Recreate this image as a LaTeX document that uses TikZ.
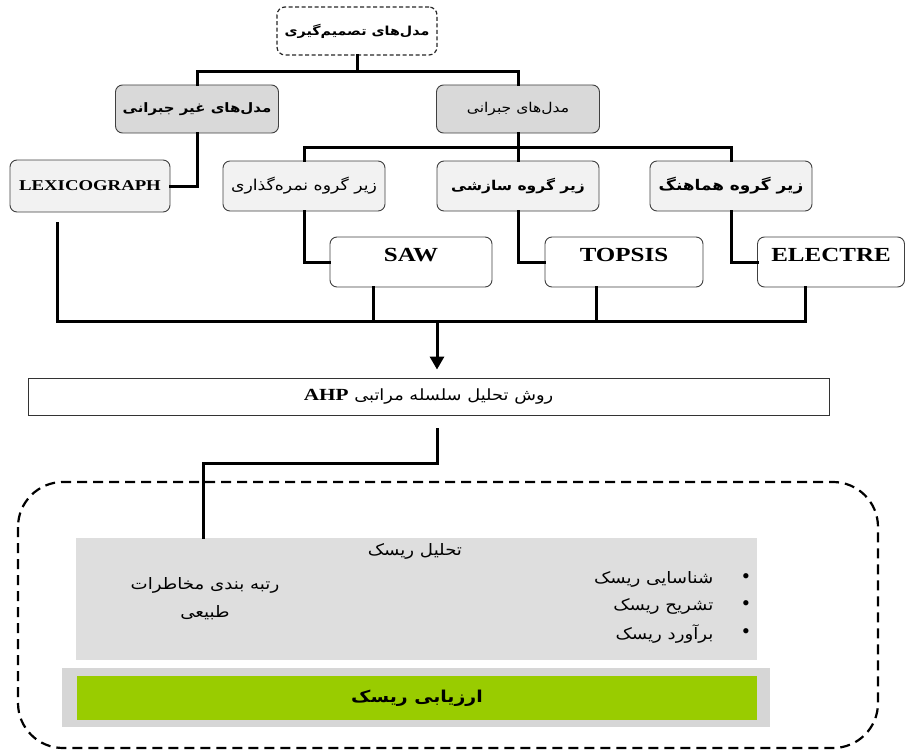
\documentclass[tikz,border=0pt]{standalone}
\usepackage{fontspec}
\setmainfont{Liberation Serif}
\newfontfamily\fafont[Script=Arabic,FakeStretch=1.15]{DejaVu Sans}
\newfontfamily\latinfnt[FakeStretch=1.25]{Liberation Serif}
\TeXXeTstate=1
\usetikzlibrary{arrows.meta,positioning,calc}
\definecolor{lvltwo}{HTML}{D9D9D9}
\definecolor{lvlthree}{HTML}{F2F2F2}
\definecolor{riskgray}{HTML}{DEDEDE}
\definecolor{bargray}{HTML}{D6D6D6}
\definecolor{riskgreen}{HTML}{99CC00}
\tikzset{
	topbox/.style={draw=black!85,dashed,dash pattern=on 4pt off 2.5pt,line width=1.2pt,rounded corners=8pt,minimum width=160pt,minimum height=48pt,font=\fafont\bfseries\fontsize{12.4}{14}\selectfont},
	grpbox/.style={draw=black!75,line width=0.9pt,rounded corners=7pt,fill=lvltwo,minimum width=163pt,minimum height=48pt,font=\fafont\fontsize{13.5}{15}\selectfont},
	subbox/.style={draw=black!75,line width=0.9pt,rounded corners=7pt,fill=lvlthree,minimum width=162pt,minimum height=50pt,font=\fafont\fontsize{15}{17}\selectfont},
	mbox/.style={draw=black!75,line width=0.9pt,rounded corners=7pt,fill=white,minimum width=162pt,inner sep=4pt,text height=20pt,text depth=22pt,font=\latinfnt\bfseries\fontsize{20}{22}\selectfont},
	conn/.style={line width=3pt,line cap=rect},
	riskfont/.style={font=\fafont\fontsize{15.8}{18}\selectfont},
	dot/.style={font=\fontsize{22}{22}\selectfont,inner sep=0pt}
}

\begin{document}
\begin{tikzpicture}[x=1pt,y=-1pt]
	\useasboundingbox (0,0) rectangle (908,752);
	
	%%decision models
	\node[topbox] (dm) at (357,31) {\beginR مدل‌های تصمیم‌گیری\endR};
	
	%%non compensatory / compensatory
	\node[grpbox,font=\fafont\bfseries\fontsize{13}{15}\selectfont] (nc) at (197,109) {\beginR مدل‌های غیر جبرانی\endR};
	\node[grpbox] (cp) at (518,109) {\beginR مدل‌های جبرانی\endR};
	
	%%sub groups
	\node[subbox,minimum width=160pt,minimum height=52pt,font=\latinfnt\bfseries\fontsize{15}{17}\selectfont] (lex) at (90,186) {LEXICOGRAPH};
	\node[subbox] (sc) at (304,186) {\beginR زیر گروه نمره‌گذاری\endR};
	\node[subbox,font=\fafont\bfseries\fontsize{13.5}{15}\selectfont] (sz) at (518,186) {\beginR زیر گروه سازشی\endR};
	\node[subbox,font=\fafont\bfseries\fontsize{14.7}{16}\selectfont] (hm) at (731,186) {\beginR زیر گروه هماهنگ\endR};
	
	%%methods
	\node[mbox] (saw) at (411,262) {SAW};
	\node[mbox,minimum width=158pt] (topsis) at (624,262) {TOPSIS};
	\node[mbox,minimum width=147pt] (electre) at (831,262) {ELECTRE};
	
	%%AHP
	\node[draw=black!80,line width=0.9pt,minimum width=801pt,minimum height=37pt,font=\fafont\fontsize{15.5}{17}\selectfont] (ahp) at (428.5,396.5) {\beginR روش تحلیل سلسله مراتبی \beginL{\latinfnt\bfseries\fontsize{17}{19}\selectfont AHP}\endL\endR};
	
	%% tree edges
	\coordinate (j1) at (357,72);
	\draw[conn] (dm.south) -- (j1);
	\draw[conn] (nc.north) |- (j1) -| (cp.north);
	\draw[conn] (nc.south) |- (lex.east);
	\coordinate (j2) at (518,147);
	\draw[conn] (cp.south) -- (sz.north);
	\draw[conn] (sc.north) |- (j2) -| (hm.north);
	\draw[conn] (sc.south) |- (saw.west);
	\draw[conn] (sz.south) |- (topsis.west);
	\draw[conn] (hm.south) |- (electre.west);
	
	%% bus to AHP
	\coordinate (lx) at (57,223);
	\coordinate (b1) at (373,321);
	\coordinate (b2) at (596,321);
	\coordinate (b3) at (805,321);
	\coordinate (b0) at (437,321);
	\draw[conn] (lx) |- (b3) -- (b3 |- electre.south);
	\draw[conn] (b1) -- (b1 |- saw.south);
	\draw[conn] (b2) -- (b2 |- topsis.south);
	\draw[line width=3pt,-{Triangle[width=14pt,length=13pt]}] (b0) -- ($(b0 |- ahp.north)+(0,-8)$);
	
	%%risk frame
	\draw[dashed,line width=2.2pt,dash pattern=on 10pt off 6pt,rounded corners=45pt] (18,482) rectangle (878,748);
	\node[fill=riskgray,minimum width=681pt,minimum height=122pt] (an) at (416.5,599) {};
	\node[riskfont] (antitle) at (415,551) {\beginR تحلیل ریسک\endR};
	\node[riskfont] (rank1) at (205,585) {\beginR رتبه بندی مخاطرات\endR};
	\node[riskfont] (rank2) at (205,613) {\beginR طبیعی\endR};
	\node[riskfont,anchor=east] (it1) at (717,579) {\beginR شناسایی ریسک\endR};
	\node[riskfont,anchor=east] (it2) at (717,606) {\beginR تشریح ریسک\endR};
	\node[riskfont,anchor=east] (it3) at (717,634) {\beginR برآورد ریسک\endR};
	\node[dot] (bl1) at (746,579) {\textbullet};
	\node[dot] (bl2) at (746,606) {\textbullet};
	\node[dot] (bl3) at (746,634) {\textbullet};
	\coordinate (q) at (437,429);
	\coordinate (q2) at (203,463);
	\draw[conn] (q) |- (q2) -- (q2 |- an.north);
	
	%%risk assessment bar
	\node[fill=bargray,minimum width=708pt,minimum height=59pt] (bar) at (416,697.5) {};
	\node[fill=riskgreen,minimum width=680pt,minimum height=44pt,font=\fafont\bfseries\fontsize{16.4}{18}\selectfont] (ra) at (417,698) {\beginR ارزیابی ریسک\endR};
	
\end{tikzpicture}
\end{document}
